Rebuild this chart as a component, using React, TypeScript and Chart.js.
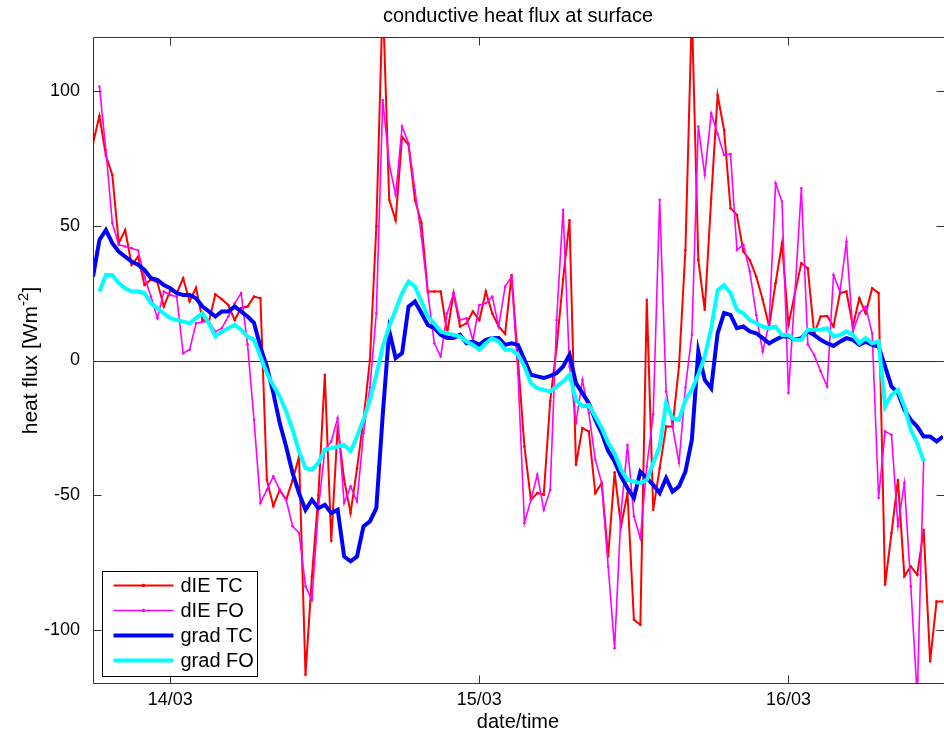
import React, { useEffect, useRef } from 'react';
import { Chart, registerables } from 'chart.js';

Chart.register(...registerables);

// Axis tick positions (hours after 14/03 00:00) and their labels
const dayTickHours = [0, 24, 48];
const dayLabels = ['14/03', '15/03', '16/03'];
const yTickValues = [-100, -50, 0, 50, 100];

// Half-hourly samples starting 13/03 18:00
const firstSampleHour = -6;
const sampleStepHours = 0.5;

// Surface heat flux [W m-2]
const dieTC = [
  80.6, 90.7, 76, 68.8, 43.5, 48.4, 35.5, 38.5, 28, 30, 29, 20, 26, 25, 30.5, 22, 27, 15, 14.4, 24.6,
  22.7, 20.6, 15, 19.5, 20, 23.7, 23.1, -44.3, -54, -48, -51.7, -44.3, -35.6, -116.6, -80, -50, -5.3, -67, -24.5, -44.2,
  -56.6, -40, -22, 0, 49.7, 135, 59.6, 52, 83, 80, 59.6, 51, 25.6, 25.6, 25.6, 10.1, 25, 12.6, 13.8, 18.2,
  15, 25.6, 17.5, 12.6, 9.9, 31.7, 0, -31.9, -51.7, -49.2, -49.8, -15, 5, 30, 52, -38.7, -25.1, -26.3, -49.2, -45.5,
  -72.7, -41.5, -61.5, -49.2, -96.2, -98, 22.5, -55.4, -40, -24.5, -24.5, -2.2, 41, 130, 37.3, 18.8, 60, 98.5, 85.5, 56.5,
  54, 40.4, 37.3, 31.1, 22.5, 12.6, 28.7, 43.5, 13.2, 25, 36.1, 34.2, 10, 16.3, 16.5, 12.6, 25, 25.6, 12.6, 23.1,
  17.5, 26.8, 25, -83.2, -64, -44.3, -80, -76.4, -79.5, -62.8, -111.6, -89.4, -89.4,
];

const dieFO = [
  null, 101.6, 78, 51, 42.9, 42.3, 41.6, 40.8, 31, 23.7, 15.7, 25.6, 24.3, 23.7, 2.7, 4, 13.8, 14.4, 14.4, 10.7,
  12, 16.3, 21.2, 25, 6, -22, -52.9, -48, -43, -48, -51.7, -61.5, -64, -83.8, -88.7, -55, -33.1, -30, -21.4, -52.9,
  -46.7, -52.3, -27, -10, 17.5, 96.6, 73, 61.4, 86.8, 80.6, 63, 46, 25, 6.4, 1.5, 17.5, 25, 15, 15.7, 7.6,
  20.6, 21.2, 23.7, 12.6, 27.4, 31, -5, -60.3, -51.7, -42.4, -55.4, -48, 15, 55.9, -2.2, -23.2, -7.2, -19.5, -36.8, -45.5,
  -76.4, -106.7, -56.6, -31.3, -57.8, -65.9, -39.3, -20, 59.6, -11.5, -24.5, -38, -10, 9.5, 86.8, 68.8, 91.7, 84, 76.2, 76.6,
  41, 42.9, 33, 16.9, 3.3, 13.8, 65.7, 59, -12.1, 25, 63.9, 6, 2, -4, -9.6, 31.7, 25.6, 44, 10.7, 17.5,
  20, 10, -51, -26.3, -27.6, -61.5, -45.5, -83.8, -125, -36.8, null, null, null,
];

const gradTC = [
  31.1, 44.7, 48.4, 43.5, 40.4, 38.5, 36.7, 35.5, 33.6, 30.5, 29.9, 28, 26.8, 25, 24.3, 24.3, 23.1, 20, 18.2, 16.3,
  18.2, 18.2, 20, 18.2, 16.3, 14, 5, -2.2, -12, -23.2, -32, -41.8, -49.2, -55.4, -51.7, -54.8, -53.5, -56.6, -55.4, -72.7,
  -74.5, -72.7, -61.5, -59.7, -54.8, -20, 11, 0.9, 2.7, 20, 21.9, 17.6, 13.2, 12, 9.5, 8.3, 8.3, 9.5, 6.4, 7,
  5.8, 7.7, 8.3, 8.3, 5.8, 6.4, 5.8, 0.3, -5.3, -5.9, -6.5, -5.7, -4.7, -2.2, 2.1, -8.4, -12.1, -15.8, -22, -26.9,
  -33.5, -37.5, -43, -47.3, -51, -41.2, -43.6, -46.1, -49.2, -43.6, -48.6, -46.7, -41.2, -29.4, 3.3, -7.2, -10.3, 10.1, 17.6, 16.9,
  12, 12.6, 10.8, 10.1, 8.3, 6.4, 7.7, 8.9, 8.9, 7.7, 8.3, 10.8, 9.5, 7.7, 6.4, 5.4, 7, 8.3, 7.7, 5.8,
  7, 5.8, 5.2, -2.2, -9.6, -12.1, -18.3, -22, -24.5, -28.2, -28.2, -30, -28.2,
];

const gradFO = [
  null, 25.6, 31.7, 31.7, 28.7, 26.8, 25.6, 25.6, 25, 21.2, 19.4, 17.5, 15.7, 15, 14.4, 13.8, 15.7, 17.5, 13.8, 8.9,
  10.7, 12, 13.2, 11.4, 8.9, 7.7, 1.5, -4.7, -9.3, -13.3, -18.9, -25.7, -33.7, -39.9, -40.5, -38, -33.1, -32.5, -31.9, -31.3,
  -33.7, -28.2, -22, -14.6, -5.3, 5.2, 12.6, 18.8, 25, 29.3, 27.4, 21.9, 16.3, 13.8, 10.7, 10.1, 9.5, 8.9, 7, 5.8,
  4, 6.4, 8.3, 7, 4, 4, 2.1, -2.2, -8.4, -10.3, -10.9, -11.5, -9.6, -7.8, -5.3, -14.6, -17, -16.4, -20.8, -25,
  -30.5, -34.5, -40.5, -44.3, -44.9, -45.5, -44.3, -38, -31.9, -15.8, -21.4, -22, -14.6, -10.9, -5.3, 1.5, 12, 26, 28, 25,
  18.8, 17.5, 15, 13.8, 12.6, 12, 12.6, 9.5, 9.5, 7.6, 7.7, 11.4, 11.4, 11.4, 12, 8.9, 9.5, 10.8, 9.5, 6.4,
  8.3, 6.4, 7, -17, -12.7, -10.9, -17, -25.7, -30.6, -37.4, null, null, null,
];

const FONT = '"Liberation Sans", Arial, sans-serif';
const TEXT_SIZE = 20;
const TICK_SIZE = 18;

const toPoints = (values: (number | null)[]) =>
  values.map((v, i) => ({ x: firstSampleHour + i * sampleStepHours, y: v }));

// Box, inward tick marks, zero line and legend in the classic plot style
const framePlugin = {
  id: 'frame',
  beforeDatasetsDraw(chart: any) {
    const { ctx, chartArea: a, scales } = chart;
    const y0 = Math.round(scales.y.getPixelForValue(0)) + 0.5;
    ctx.save();
    ctx.strokeStyle = '#2a2a2a';
    ctx.lineWidth = 1;
    ctx.beginPath();
    ctx.moveTo(a.left, y0);
    ctx.lineTo(a.right + 4, y0);
    ctx.stroke();
    ctx.restore();
  },
  afterDatasetsDraw(chart: any) {
    const { ctx, chartArea: a, scales } = chart;
    const L = Math.round(a.left) + 0.5;
    const R = Math.round(a.right) - 0.5;
    const T = Math.round(a.top) + 0.5;
    const B = Math.round(a.bottom) - 0.5;
    const tick = 8;
    ctx.save();
    ctx.strokeStyle = '#333';
    ctx.lineWidth = 1;
    // left, top and bottom edges; the right edge sits past the visible width
    ctx.beginPath();
    ctx.moveTo(R + 4, T);
    ctx.lineTo(L, T);
    ctx.lineTo(L, B);
    ctx.lineTo(R + 4, B);
    dayTickHours.forEach((h) => {
      const x = Math.round(scales.x.getPixelForValue(h)) + 0.5;
      ctx.moveTo(x, B);
      ctx.lineTo(x, B - tick);
      ctx.moveTo(x, T);
      ctx.lineTo(x, T + tick);
    });
    yTickValues.forEach((v) => {
      const y = Math.round(scales.y.getPixelForValue(v)) + 0.5;
      ctx.moveTo(L, y);
      ctx.lineTo(L + tick, y);
      ctx.moveTo(R + 2, y);
      ctx.lineTo(R + 2 - tick, y);
    });
    ctx.stroke();

    // legend
    const bx = Math.round(a.left + 9) + 0.5;
    const by = Math.round(a.bottom - 113) + 0.5;
    const bw = 155;
    const bh = 105;
    ctx.fillStyle = '#fff';
    ctx.fillRect(bx, by, bw, bh);
    ctx.strokeStyle = '#000';
    ctx.strokeRect(bx, by, bw, bh);
    ctx.font = `${TEXT_SIZE}px ${FONT}`;
    ctx.textBaseline = 'middle';
    ctx.textAlign = 'left';
    chart.data.datasets.forEach((ds: any, i: number) => {
      const y = by + 14 + i * 25;
      ctx.strokeStyle = ds.borderColor;
      ctx.lineWidth = ds.borderWidth;
      ctx.beginPath();
      ctx.moveTo(bx + 11, y);
      ctx.lineTo(bx + 71, y);
      ctx.stroke();
      if (ds.pointRadius > 0) {
        ctx.fillStyle = ds.borderColor;
        ctx.beginPath();
        ctx.arc(bx + 41, y, ds.pointRadius + 0.5, 0, Math.PI * 2);
        ctx.fill();
      }
      ctx.fillStyle = '#000';
      ctx.fillText(ds.label, bx + 78, y + 1);
    });
    ctx.restore();
  },
  afterDraw(chart: any) {
    const { ctx, chartArea: a } = chart;
    const cy = (a.top + a.bottom) / 2;
    const main = 'heat flux [Wm';
    const sup = '-2';
    const end = ']';
    ctx.save();
    ctx.translate(31, cy);
    ctx.rotate(-Math.PI / 2);
    ctx.fillStyle = '#000';
    ctx.textBaseline = 'middle';
    ctx.textAlign = 'left';
    const big = `21px ${FONT}`;
    const small = `15px ${FONT}`;
    ctx.font = big;
    const wMain = ctx.measureText(main).width;
    const wEnd = ctx.measureText(end).width;
    ctx.font = small;
    const wSup = ctx.measureText(sup).width;
    let x = -(wMain + wSup + wEnd) / 2;
    ctx.font = big;
    ctx.fillText(main, x, 0);
    x += wMain;
    ctx.font = small;
    ctx.fillText(sup, x, -7);
    x += wSup;
    ctx.font = big;
    ctx.fillText(end, x, 0);
    ctx.restore();
  },
};

export default function App() {
  const canvasRef = useRef<HTMLCanvasElement>(null);

  useEffect(() => {
    const canvas = canvasRef.current;
    if (!canvas) return;
    const chart = new Chart(canvas, {
      type: 'line',
      data: {
        datasets: [
          {
            label: 'dIE TC',
            data: toPoints(dieTC),
            borderColor: '#ff0000',
            backgroundColor: '#ff0000',
            borderWidth: 2,
            pointRadius: 1.3,
            pointBorderWidth: 0,
            order: 4,
            clip: 0,
          },
          {
            label: 'dIE FO',
            data: toPoints(dieFO),
            borderColor: '#ff00ff',
            backgroundColor: '#ff00ff',
            borderWidth: 1.6,
            pointRadius: 1.3,
            pointBorderWidth: 0,
            order: 3,
            clip: 0,
          },
          {
            label: 'grad TC',
            data: toPoints(gradTC),
            borderColor: '#0000ff',
            backgroundColor: '#0000ff',
            borderWidth: 4,
            pointRadius: 0,
            order: 2,
            clip: 0,
          },
          {
            label: 'grad FO',
            data: toPoints(gradFO),
            borderColor: '#00ffff',
            backgroundColor: '#00ffff',
            borderWidth: 4,
            pointRadius: 0,
            order: 1,
            clip: 0,
          },
        ],
      },
      options: {
        responsive: false,
        animation: false,
        devicePixelRatio: 1,
        layout: { padding: { right: 1 } },
        elements: { line: { tension: 0 } },
        plugins: {
          legend: { display: false },
          tooltip: { enabled: false },
          title: {
            display: true,
            fullSize: false,
            text: 'conductive heat flux at surface',
            color: '#000',
            font: { family: FONT, size: TEXT_SIZE, weight: 'normal' },
            padding: { top: 4, bottom: 9 },
          },
        },
        scales: {
          x: {
            type: 'linear',
            min: -6,
            max: 60,
            afterBuildTicks: (scale: any) => {
              scale.ticks = dayTickHours.map((v) => ({ value: v }));
            },
            afterFit: (scale: any) => {
              scale.height = 50;
            },
            ticks: {
              color: '#000',
              font: { family: FONT, size: TICK_SIZE },
              padding: 5,
              maxRotation: 0,
              autoSkip: false,
              callback: (v: any) => {
                const k = dayTickHours.indexOf(Number(v));
                return k >= 0 ? dayLabels[k] : '';
              },
            },
            grid: { display: false, drawTicks: false },
            border: { display: false },
            title: {
              display: true,
              text: 'date/time',
              color: '#000',
              font: { family: FONT, size: TEXT_SIZE },
              padding: { top: 0, bottom: 0 },
            },
          },
          y: {
            type: 'linear',
            min: -120,
            max: 120,
            afterBuildTicks: (scale: any) => {
              scale.ticks = yTickValues.map((v) => ({ value: v }));
            },
            afterFit: (scale: any) => {
              scale.width = 93;
            },
            ticks: {
              color: '#000',
              font: { family: FONT, size: TICK_SIZE },
              padding: 13,
            },
            grid: { display: false, drawTicks: false },
            border: { display: false },
          },
        },
      },
      plugins: [framePlugin],
    } as any);
    return () => chart.destroy();
  }, []);

  return (
    <div
      style={{
        position: 'fixed',
        left: 0,
        top: 0,
        width: 944,
        height: 734,
        overflow: 'hidden',
        background: '#fff',
      }}
    >
      <canvas ref={canvasRef} width={947} height={734} style={{ display: 'block', width: 947, height: 734 }} />
    </div>
  );
}
